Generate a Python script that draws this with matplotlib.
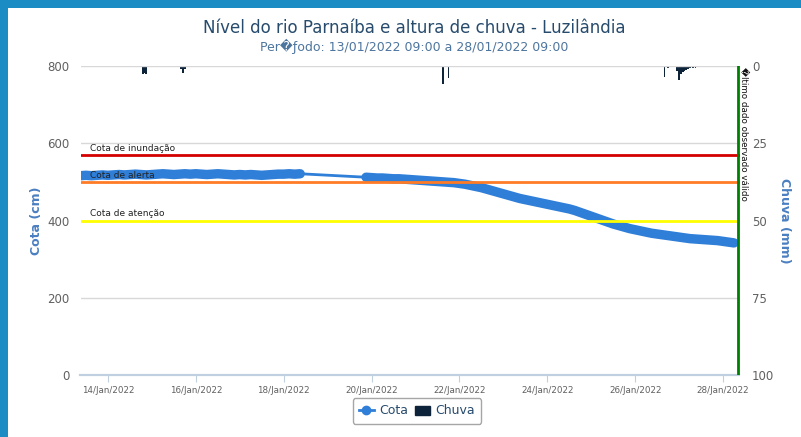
import matplotlib
matplotlib.use('Agg')
import matplotlib.pyplot as plt
import matplotlib.dates as mdates
import pandas as pd
from matplotlib.lines import Line2D
from matplotlib.patches import Patch, Rectangle

# Cota (cm), 3-hourly readings
cota_t1 = pd.date_range('2022-01-13 09:00', '2022-01-18 09:00', freq='3h')
cota_v1 = [516, 517, 516, 517, 518,
           517, 518, 519, 518, 519, 520, 519, 518,
           519, 520, 521, 520, 519, 520, 521, 520,
           521, 520, 519, 520, 521, 520, 519, 518,
           519, 518, 519, 518, 517, 518, 519, 520,
           520, 521, 520, 521]
cota_t2 = pd.date_range('2022-01-19 21:00', '2022-01-28 06:00', freq='3h')
cota_v2 = [512,
           511, 510, 510, 509, 508, 508, 507, 506,
           505, 504, 503, 502, 501, 500, 499, 498,
           496, 494, 491, 488, 485, 481, 477, 473,
           469, 465, 461, 457, 454, 451, 448, 445,
           442, 439, 436, 433, 430, 426, 421, 416,
           411, 406, 401, 396, 391, 387, 383, 379,
           376, 373, 370, 367, 365, 363, 361, 359,
           357, 355, 353, 352, 351, 350, 349, 348,
           346, 344, 342]

# Chuva (mm)
chuva_t = pd.to_datetime([
    '2022-01-13 11:00', '2022-01-14 19:00', '2022-01-14 20:00', '2022-01-14 21:00',
    '2022-01-15 03:00', '2022-01-15 11:00', '2022-01-15 16:00', '2022-01-15 17:00',
    '2022-01-15 18:00', '2022-01-16 09:00', '2022-01-17 15:00', '2022-01-21 15:00',
    '2022-01-21 18:00', '2022-01-22 10:00', '2022-01-26 16:00', '2022-01-26 18:00',
    '2022-01-26 23:00', '2022-01-27 00:00', '2022-01-27 01:00', '2022-01-27 02:00',
    '2022-01-27 03:00', '2022-01-27 04:00', '2022-01-27 05:00', '2022-01-27 06:00',
    '2022-01-27 07:30', '2022-01-27 09:00', '2022-01-27 11:00', '2022-01-27 16:00'])
chuva_v = [0.4, 2.5, 2.2, 2.5,
           0.3, 0.3, 1.0, 2.2,
           1.0, 0.3, 0.4, 5.8,
           4.0, 0.3, 3.5, 0.5,
           1.5, 4.6, 2.5, 2.0,
           1.5, 1.2, 1.0, 0.8,
           0.7, 0.5, 0.4, 0.3]

cotas = {'Cota de inundação': (570, '#d40000'),
         'Cota de alerta': (500, '#ff7b25'),
         'Cota de atenção': (400, '#ffff00')}
ultimo = pd.Timestamp('2022-01-28 08:00')

blue = '#2f7ed8'
navy = '#0d233a'

fig = plt.figure(figsize=(8.01, 4.37), dpi=100)
fig.patch.set_facecolor('#1b8cc4')
fig.patches.append(Rectangle((8 / 801, 0), 1, (437 - 8) / 437, transform=fig.transFigure,
                             facecolor='white', edgecolor='none', zorder=-5))

ax = fig.add_axes([80.5 / 801, 62 / 437, 659 / 801, 309 / 437])
ax2 = ax.twinx()
ax2.set_zorder(1)
ax.set_zorder(2)
ax.patch.set_visible(False)
ax2.patch.set_visible(False)

# rain bars (axis inverted, hanging from the top)
ax2.bar(chuva_t, chuva_v, width=1 / 24, color=navy, zorder=2)
ax2.set_ylim(100, 0)
ax2.set_yticks([0, 25, 50, 75, 100])

# cota series: thin line across the gap, thick band of readings
ax.plot(list(cota_t1) + list(cota_t2), cota_v1 + cota_v2, color=blue, lw=2, zorder=3)
for tt, vv in ((cota_t1, cota_v1), (cota_t2, cota_v2)):
    ax.plot(tt, vv, color=blue, lw=6.8, solid_capstyle='round', solid_joinstyle='round',
            zorder=3)

ax.set_ylim(0, 800)
ax.set_yticks([0, 200, 400, 600, 800])
ax.set_xlim(pd.Timestamp('2022-01-13 09:00'), pd.Timestamp('2022-01-28 09:00'))
ax.grid(axis='y', color='#d8d8d8', lw=1, zorder=0)
ax.set_axisbelow(True)

for name, (val, col) in cotas.items():
    ax.axhline(val, color=col, lw=2, zorder=4)
    ax.annotate(name, (pd.Timestamp('2022-01-13 09:00'), val), xytext=(6.5, 3),
                textcoords='offset points', fontsize=6.5, color='#222222', zorder=5)

ax.axvline(ultimo, color='#008000', lw=2, zorder=5)
ax.annotate('\ufffdltimo dado observado válido', (ultimo, 800), xytext=(1, -1),
            textcoords='offset points', rotation=270, ha='left', va='top',
            fontsize=6.3, color='#111111', zorder=6)

ax.xaxis.set_major_locator(mdates.DayLocator(bymonthday=[14, 16, 18, 20, 22, 24, 26, 28]))
ax.xaxis.set_major_formatter(mdates.DateFormatter('%d/%b/%Y'))

for a in (ax, ax2):
    for s in ('top', 'left', 'right'):
        a.spines[s].set_visible(False)
    a.spines['bottom'].set_color('#c0d0e0')
    a.spines['bottom'].set_linewidth(1.5)
ax.tick_params(axis='x', colors='#c0d0e0', labelcolor='#606060', labelsize=6.3,
               length=5, pad=3)
ax.tick_params(axis='y', length=0, labelcolor='#606060', labelsize=8.5, pad=8)
ax2.tick_params(axis='y', length=0, labelcolor='#606060', labelsize=8.5, pad=9)

ax.set_ylabel('Cota (cm)', color='#4a7fc1', fontsize=9, fontweight='bold', labelpad=3)
ax2.set_ylabel('Chuva (mm)', color='#4a7fc1', fontsize=9, fontweight='bold',
               rotation=270, labelpad=12)

fig.text(414 / 801, 1 - 28 / 437, 'Nível do rio Parnaíba e altura de chuva - Luzilândia',
         ha='center', va='center', fontsize=12, color='#274b6d')
fig.text(414 / 801, 1 - 46 / 437, 'Per\ufffd\u0192odo: 13/01/2022 09:00 a 28/01/2022 09:00',
         ha='center', va='center', fontsize=9, color='#4d759e')

handles = [Line2D([0], [0], color=blue, lw=2, marker='o', ms=6),
           Patch(facecolor=navy, edgecolor=navy)]
leg = fig.legend(handles, ['Cota', 'Chuva'], loc='center', ncol=2,
                 bbox_to_anchor=(417 / 801, 1 - 411 / 437), fontsize=9,
                 frameon=True, edgecolor='#909090', handlelength=1.2,
                 handletextpad=0.4, columnspacing=0.6, borderpad=0.5)
for t in leg.get_texts():
    t.set_color('#274b6d')

fig.savefig('out.png', dpi=100, facecolor=fig.get_facecolor())
